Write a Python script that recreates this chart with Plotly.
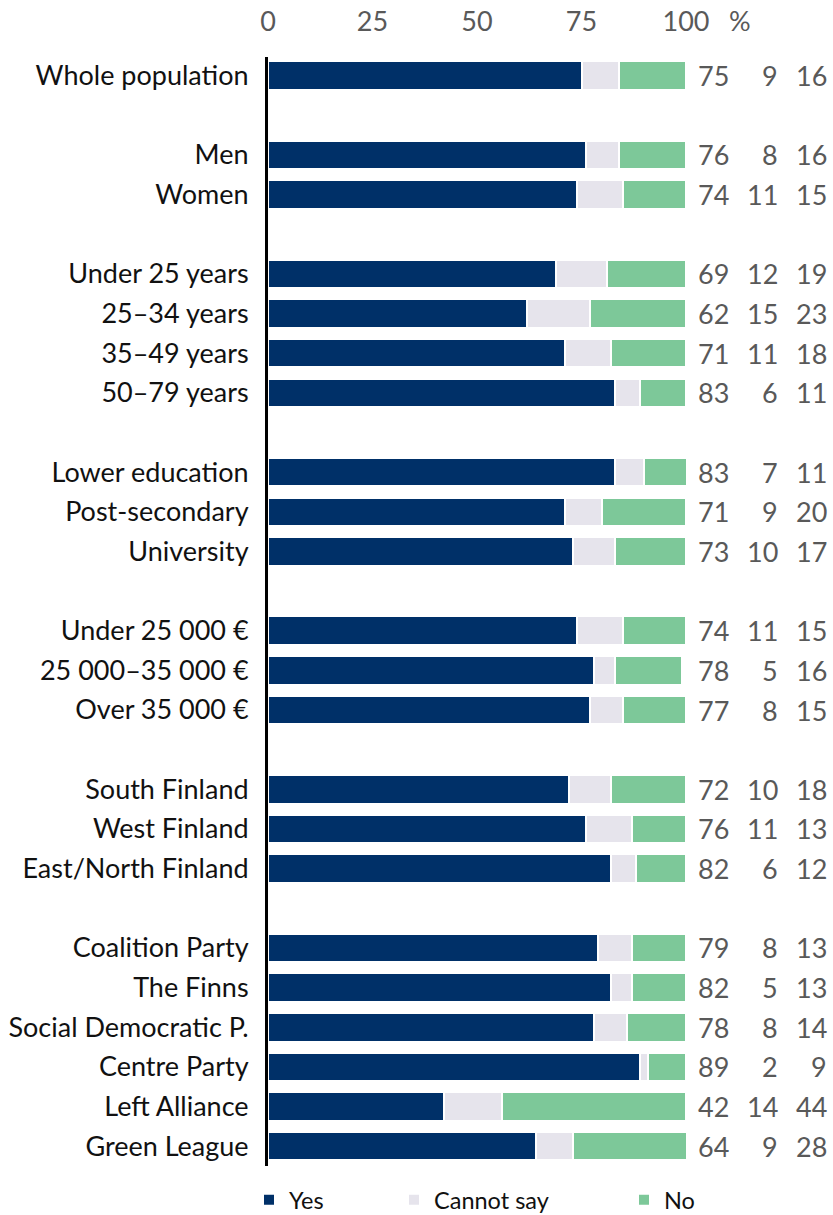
import plotly.graph_objects as go

groups = [
    ["Whole population"],
    ["Men", "Women"],
    ["Under 25 years", "25–34 years", "35–49 years", "50–79 years"],
    ["Lower education", "Post-secondary", "University"],
    ["Under 25 000 €", "25 000–35 000 €", "Over 35 000 €"],
    ["South Finland", "West Finland", "East/North Finland"],
    ["Coalition Party", "The Finns", "Social Democratic P.", "Centre Party",
     "Left Alliance", "Green League"],
]
yes = [75, 76, 74, 69, 62, 71, 83, 83, 71, 73, 74, 78, 77, 72, 76, 82, 79, 82, 78, 89, 42, 64]
cannot = [9, 8, 11, 12, 15, 11, 6, 7, 9, 10, 11, 5, 8, 10, 11, 6, 8, 5, 8, 2, 14, 9]
no = [16, 16, 15, 19, 23, 18, 11, 11, 20, 17, 15, 16, 15, 18, 13, 12, 13, 13, 14, 9, 44, 28]
series_names = ["Yes", "Cannot say", "No"]
colors = ["#003068", "#e6e4ec", "#7dc899"]
tick_vals = [0, 25, 50, 75, 100]

# slot positions: one empty slot between groups
labels, pos = [], []
slot = 0
for g in groups:
    for lab in g:
        labels.append(lab)
        pos.append(slot)
        slot += 1
    slot += 1

FONT = "Lato"
FS = 27
L, R, T, B = 268, 147, 57, 49
W, H = 833, 1215
pw = W - L - R
ph = H - T - B

fig = go.Figure()
legends = ["legend", "legend2", "legend3"]
leg_px = [249, 394, 624]
for name, vals, col, lg in zip(series_names, [yes, cannot, no], colors, legends):
    fig.add_trace(go.Bar(
        y=pos, x=vals, orientation="h", name=name,
        marker=dict(color=col, line=dict(color="white", width=2)),
        width=0.72, legend=lg, hoverinfo="x+name",
    ))

# value columns on the right (pixel right edges converted to paper units)
col_px = [731, 780, 829]
for vals, cx in zip([yes, cannot, no], col_px):
    for p, v in zip(pos, vals):
        fig.add_annotation(x=(cx - L) / pw, y=p, xref="paper", yref="y", text=str(v),
                           showarrow=False, xanchor="right", yanchor="middle",
                           font=dict(family=FONT, size=FS, color="#595959"))

fig.add_annotation(x=(740 - L) / pw, y=1, xref="paper", yref="paper", yshift=37,
                   text="%", showarrow=False, xanchor="center", yanchor="middle",
                   font=dict(family=FONT, size=FS, color="#595959"))

layout_leg = {}
for lg, px in zip(legends, leg_px):
    layout_leg[lg] = dict(orientation="h", yanchor="middle", y=-(1200 - (H - B)) / ph,
                          xanchor="left", x=(px - L) / pw,
                          font=dict(family=FONT, size=23.5, color="#111111"),
                          bgcolor="rgba(0,0,0,0)", itemclick=False)

fig.update_layout(
    width=W, height=H,
    margin=dict(l=L, r=R, t=T, b=B, autoexpand=False),
    plot_bgcolor="white", paper_bgcolor="white",
    barmode="stack", bargap=0,
    showlegend=True,
    font=dict(family=FONT, size=FS, color="#111111"),
    xaxis=dict(range=[0, 100], side="top", tickvals=tick_vals,
               showgrid=False, zeroline=False, showline=False,
               ticks="outside", ticklen=14, tickcolor="rgba(0,0,0,0)",
               tickfont=dict(family=FONT, size=FS, color="#595959"),
               fixedrange=True, automargin=False),
    yaxis=dict(range=[pos[-1] + 0.5, -0.47], tickvals=pos, ticktext=labels,
               showgrid=False, zeroline=False, showline=True,
               linecolor="black", linewidth=3,
               ticks="outside", ticklen=11, tickcolor="rgba(0,0,0,0)",
               tickfont=dict(family=FONT, size=FS, color="#111111"),
               fixedrange=True, automargin=False),
    **layout_leg,
)

fig.write_html("out.html", config={"displayModeBar": False},
               post_script="document.body.style.margin='0';document.body.style.overflow='hidden';")
